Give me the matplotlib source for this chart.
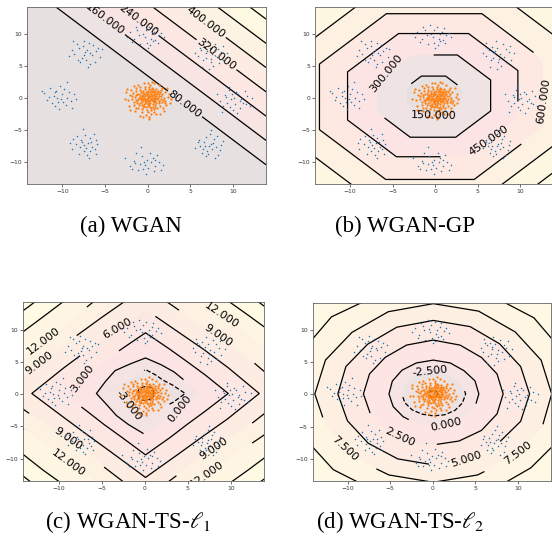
import numpy as np
import matplotlib
matplotlib.use('Agg')
import matplotlib.pyplot as plt
from matplotlib.colors import LinearSegmentedColormap

plt.rcParams['mathtext.fontset'] = 'stix'

# ---------------- data ----------------
x_lim = (-14.1, 13.9)
y_lim = (-13.4, 14.2)

captions = ['(a) WGAN', '(b) WGAN-GP', r'(c) WGAN-TS-$\ell_1$', r'(d) WGAN-TS-$\ell_2$']

# real samples: 8 gaussians on a ring (blue)
real_pts = [
    # right
    (10.1, 0.0), (9.2, 0.2), (11.2, -0.7), (9.7, -1.4), (10.6, 0.6), (8.5, -0.5), (10.9, -1.6), (9.5, 1.3),
    (11.7, 0.3), (10.2, -0.9), (8.9, -1.2), (10.4, 0.9), (9.8, -0.2), (11.0, -0.1), (9.3, -0.7), (12.0, -1.2),
    (8.2, 0.7), (10.5, -2.3), (9.6, 1.8), (11.4, 1.2), (8.7, -2.1), (10.8, -0.4), (9.1, 0.5), (10.0, -1.8),
    (12.3, 0.1), (11.5, -0.9), (9.9, 0.6),
    # upper right
    (7.0, 7.3), (6.3, 7.6), (8.1, 6.5), (7.4, 5.6), (6.7, 8.0), (8.6, 7.2), (5.9, 6.6), (7.9, 8.4),
    (6.5, 5.9), (7.6, 6.9), (8.9, 6.0), (6.1, 7.9), (7.3, 7.8), (8.3, 7.7), (6.8, 6.3), (7.7, 5.1),
    (5.6, 7.1), (9.3, 7.0), (7.1, 8.9), (8.4, 5.5), (6.4, 4.9), (7.5, 6.2), (6.0, 8.6), (8.8, 8.2),
    (7.2, 4.6), (6.9, 7.0),
    # top
    (-0.5, 10.1), (0.4, 9.3), (-1.2, 10.6), (0.8, 10.4), (-0.1, 8.7), (-1.6, 9.2), (1.3, 9.8), (0.2, 11.2),
    (-0.9, 8.4), (0.6, 8.9), (-2.1, 10.3), (1.0, 11.0), (-0.3, 9.6), (-1.0, 9.9), (1.6, 10.2), (-0.6, 11.5),
    (0.0, 7.9), (-1.8, 8.8), (0.9, 9.1), (-0.2, 10.7), (1.9, 9.5), (-2.4, 9.6), (0.3, 8.3), (-1.4, 11.1),
    (1.2, 8.6), (0.5, 10.0),
    # upper left
    (-7.1, 7.5), (-8.0, 7.9), (-6.5, 6.8), (-7.7, 6.3), (-6.9, 8.6), (-8.6, 6.9), (-6.1, 7.4), (-7.5, 9.0),
    (-8.3, 8.5), (-7.2, 6.0), (-5.8, 7.9), (-8.9, 7.5), (-6.7, 7.1), (-7.9, 5.6), (-6.4, 8.3), (-7.3, 7.2),
    (-9.2, 6.6), (-5.6, 6.5), (-7.0, 4.8), (-8.2, 6.0), (-6.2, 5.7), (-7.6, 8.2), (-8.7, 8.9), (-6.8, 5.3),
    (-5.4, 7.7), (-7.4, 6.7),
    # left
    (-10.0, 0.6), (-10.9, 0.9), (-9.4, 0.1), (-10.5, -0.6), (-9.8, 1.5), (-11.6, 0.2), (-9.0, -0.4), (-10.3, 1.9),
    (-11.2, -0.8), (-9.6, -1.1), (-12.1, 0.8), (-10.7, 1.2), (-10.1, -0.1), (-9.2, 0.9), (-11.0, 0.4), (-8.6, 0.6),
    (-11.8, -0.3), (-10.4, -1.7), (-9.5, 2.5), (-12.4, 1.1), (-8.9, -1.6), (-10.6, 0.0), (-11.4, 1.6), (-9.9, -0.6),
    (-8.4, -0.2), (-10.8, -1.2),
    # lower left
    (-7.0, -7.0), (-7.8, -6.6), (-6.5, -7.6), (-7.5, -8.3), (-6.8, -6.2), (-8.4, -7.2), (-6.2, -8.0), (-7.3, -5.7),
    (-8.0, -8.7), (-6.6, -6.9), (-8.8, -6.4), (-7.1, -8.9), (-7.4, -7.3), (-6.1, -6.6), (-7.9, -7.7), (-5.9, -7.2),
    (-8.9, -7.9), (-6.9, -9.3), (-7.6, -4.8), (-6.3, -5.6), (-8.3, -5.9), (-7.2, -7.8), (-9.1, -7.0), (-6.0, -8.7),
    (-7.7, -6.9), (-6.7, -8.3),
    # bottom
    (-0.1, -9.6), (-0.9, -10.3), (0.6, -9.4), (-0.5, -11.0), (0.9, -10.6), (-1.6, -9.8), (0.3, -8.5), (-1.1, -11.2),
    (1.4, -9.9), (-0.4, -10.0), (-2.0, -10.6), (0.7, -11.4), (-0.7, -9.1), (1.1, -8.9), (-1.3, -8.6), (0.1, -10.9),
    (1.8, -10.4), (-2.6, -9.4), (-0.2, -11.8), (1.6, -11.2), (-1.8, -11.1), (0.4, -9.9), (-0.8, -7.6), (-1.5, -10.1),
    (0.9, -9.6), (-0.3, -10.5),
    # lower right
    (7.4, -7.1), (6.6, -6.8), (8.0, -7.6), (7.0, -8.3), (7.8, -6.3), (6.2, -7.4), (8.5, -8.1), (7.3, -5.6),
    (6.4, -8.6), (7.7, -7.0), (8.8, -6.7), (6.8, -9.1), (7.2, -7.5), (8.3, -8.9), (6.0, -6.5), (7.5, -4.9),
    (5.6, -7.8), (8.1, -5.9), (6.9, -6.1), (7.9, -9.4), (6.5, -7.9), (8.6, -7.3), (7.1, -8.7), (5.9, -6.9),
    (7.6, -8.0), (6.7, -7.4),
]

# generated samples (orange)
fake_pts = [
    (0.1, 0.2), (0.5, -0.3), (-0.4, 0.1), (0.8, 0.5), (-0.2, -0.6), (1.1, -0.1), (-0.9, 0.4), (0.3, 0.9), (0.6, -0.9), (-0.6, -0.2),
    (1.4, 0.3), (-1.2, -0.5), (0.0, -1.2), (0.9, 1.1), (-0.5, 0.8), (1.7, -0.6), (-1.5, 0.2), (0.4, -1.6), (-0.3, 1.4), (1.2, 0.9),
    (-1.0, -1.1), (0.7, 0.0), (-0.8, 0.9), (0.2, -0.5), (1.9, 0.1), (-1.8, -0.2), (0.5, 1.6), (-0.1, -1.9), (1.5, -1.2), (-1.3, 1.2),
    (0.2, 0.4), (0.9, -0.5), (-0.4, -0.9), (1.3, 0.6), (-0.7, 0.2), (0.0, 0.7), (0.6, -1.3), (-1.1, -0.1), (1.0, 1.5), (-0.2, -0.3),
    (2.1, -0.4), (-2.0, 0.5), (0.3, 2.0), (0.8, -2.1), (-1.6, -1.0), (1.6, 1.3), (-0.9, 1.7), (1.8, -1.5), (-1.4, -1.6), (0.1, 1.1),
    (0.4, 0.1), (-0.1, 0.5), (0.7, 0.7), (0.3, -0.8), (-0.6, -0.6), (1.0, -0.8), (-0.3, -0.1), (0.5, 0.3), (-0.8, -0.3), (1.2, 0.1),
    (0.0, -0.4), (0.6, 1.2), (-0.5, 1.1), (1.4, -0.4), (-1.2, 0.7), (0.9, 0.3), (-0.2, -1.4), (0.2, 1.5), (1.1, -1.6), (-1.0, 0.1),
    (2.4, 0.2), (-2.3, -0.3), (0.0, 2.4), (0.4, -2.5), (-1.9, 1.3), (2.2, -1.1), (-0.7, -2.2), (1.3, 2.0), (-1.5, -2.0), (2.0, 1.0),
    (0.35, -0.1), (-0.25, 0.3), (0.75, -0.2), (0.15, -1.0), (-0.45, 0.6), (1.05, 0.4), (0.55, 0.55), (-0.65, -1.0), (0.85, -1.0), (-0.1, 0.9),
    (1.55, -0.1), (-1.35, -0.3), (0.25, -1.4), (0.65, 1.4), (-0.85, 1.3), (1.75, 0.7), (-1.7, 0.8), (0.45, -1.8), (-0.35, 1.8), (1.35, -0.8),
    (-1.1, -1.5), (0.95, 0.8), (-0.55, -1.4), (1.25, 1.2), (-0.15, -0.8), (0.05, 0.0), (0.7, -0.6), (-0.9, -0.7), (1.6, 0.4), (-1.4, 0.5),
    (2.6, -0.7), (-2.5, 0.9), (-0.4, 2.3), (1.0, -2.4), (0.2, -2.9), (-2.2, -1.2), (2.3, 1.6), (-1.1, 2.1), (1.9, -2.0), (-2.7, -0.2),
    (0.5, 0.9), (-0.3, -0.5), (0.9, -0.2), (0.1, 0.6), (-0.7, 0.5), (1.1, 0.7), (0.3, -0.3), (-0.5, -0.3), (0.8, 1.0), (-0.2, 1.0),
    (1.3, -0.5), (-1.0, 0.6), (0.6, -0.5), (0.0, -0.9), (-0.4, -1.2), (1.5, 0.9), (-1.2, -0.8), (0.4, 1.3), (0.9, -1.4), (-0.8, 0.0),
    (1.8, -0.3), (-1.6, -0.6), (0.2, 1.8), (0.7, -1.7), (-1.3, 1.6), (1.7, 1.6), (-0.6, -1.7), (2.0, -0.8), (-1.8, 0.4), (0.1, -2.2),
    (0.3, 0.3), (0.6, 0.1), (-0.1, -0.2), (0.2, -0.7), (-0.3, 0.7), (0.8, -0.4), (0.4, 0.6), (-0.5, 0.3), (1.0, 0.0), (0.1, -0.3),
    (-2.1, -1.8), (2.5, 0.6), (-0.2, -2.6), (0.8, 2.3), (-1.6, 1.9), (1.5, -2.4), (-2.4, 1.5), (2.7, -0.2), (-0.9, -2.8), (0.5, 2.6),
    (0.2, -3.3), (-0.5, -3.0),
]

# (a) WGAN: critic values on a coarse grid (plane)
wgan_x = [-14.1, 0.0, 13.9]
wgan_y = [-13.4, 0.0, 14.2]
wgan_z = [[-574, -277, 17],
          [-292, 6, 299],
          [8, 306, 599]]
wgan_levels = [80, 160, 240, 320, 400, 480, 560]
wgan_bounds = [-600, 80, 160, 240, 320, 400, 480, 560, 620]
wgan_labels = [(4.45, -0.78), (-4.9, 12.4), (-1.0, 12.2), (8.2, 7.0), (7.0, 12.1)]

# (b) WGAN-GP: octagons, apothem in directions E, NE, N, NW, W, SW, S, SE
gp_center = (-0.2, 0.35)
gp_levels = [150, 300, 450, 600, 750, 900]
gp_apothem = [
    [3.4, 3.2, 3.1, 3.2, 3.2, 3.1, 3.0, 3.2],
    [6.7, 6.5, 6.4, 6.45, 6.7, 6.5, 6.45, 6.4],
    [9.9, 9.8, 9.75, 9.8, 10.1, 9.8, 9.5, 9.5],
    [12.9, 13.1, 12.85, 13.0, 13.4, 13.2, 13.05, 12.6],
    [16.4, 16.7, 16.2, 16.3, 16.6, 16.6, 16.3, 15.45],
    [19.8, 20.2, 19.6, 19.7, 20.0, 20.0, 19.6, 18.4],
]
gp_min, gp_max = 0, 1400
gp_labels = [(-0.18, -2.75), (-5.66, 3.78), (6.17, -6.48), (12.8, -0.5)]

# contour radii at 16 directions (0, 22.5, ... 337.5 degrees)
angles = np.arange(16) * 22.5

# (c) WGAN-TS-l1
l1_center = (0.1, 0.1)
l1_levels = [-6, -3, 0, 3, 6, 9, 12, 15, 18]
l1_radii = [
    [0.9, 1.0, 1.2, 1.1, 1.1, 1.0, 1.1, 0.9, 0.8, 0.9, 1.1, 1.1, 1.1, 1.0, 1.1, 1.0],
    [4.6, 3.4, 2.9, 3.1, 3.7, 3.0, 2.8, 2.9, 3.2, 2.8, 2.6, 3.0, 4.1, 3.2, 3.0, 3.5],
    [6.3, 5.0, 4.7, 4.8, 5.5, 4.9, 5.0, 5.0, 5.7, 4.8, 4.8, 5.2, 6.4, 5.1, 4.6, 4.8],
    [9.6, 7.5, 6.9, 7.4, 9.4, 7.4, 6.9, 7.4, 9.5, 7.3, 6.8, 7.3, 9.5, 7.4, 6.8, 7.4],
    [13.2, 10.4, 9.6, 10.2, 13.0, 10.2, 9.5, 10.3, 13.2, 10.1, 9.3, 10.0, 13.0, 10.1, 9.4, 10.3],
    [16.8, 13.3, 12.3, 12.9, 16.5, 12.9, 12.0, 13.1, 16.8, 12.6, 11.2, 12.4, 16.3, 12.5, 11.6, 13.0],
    [20.0, 16.1, 15.0, 15.6, 19.8, 15.5, 14.1, 15.3, 20.0, 15.1, 13.9, 15.0, 19.6, 15.0, 14.0, 15.5],
    [23.6, 18.5, 17.0, 18.2, 23.4, 18.2, 16.8, 18.2, 23.6, 18.0, 16.8, 18.0, 23.4, 18.0, 16.8, 18.2],
    [27.0, 20.9, 19.3, 20.8, 26.8, 20.8, 19.1, 20.8, 27.0, 20.6, 19.1, 20.6, 26.8, 20.6, 19.1, 20.8],
]
l1_min, l1_max = -7.5, 26
l1_labels = [(-11.75, 8.2), (-12.25, 4.9), (-3.2, 10.2), (-7.27, 2.45), (-1.84, -1.69), (4.18, -2.3),
             (-8.9, -6.85), (-8.9, -10.7), (8.93, 12.26), (8.46, 9.07), (8.0, -8.4), (7.3, -12.6)]

# (d) WGAN-TS-l2
l2_center = (0.05, 0.05)
l2_levels = [-5, -2.5, 0, 2.5, 5, 7.5, 10, 12.5]
l2_radii = [
    [0.55, 0.5, 0.5, 0.5, 0.5, 0.5, 0.55, 0.55, 0.55, 0.5, 0.5, 0.5, 0.5, 0.5, 0.55, 0.55],
    [3.8, 3.7, 3.5, 3.5, 3.6, 3.6, 3.6, 3.7, 3.7, 3.6, 3.5, 3.4, 3.4, 3.5, 3.6, 3.7],
    [5.35, 5.3, 5.1, 5.2, 5.25, 5.2, 5.2, 5.2, 5.2, 5.1, 5.0, 5.0, 5.0, 5.05, 5.1, 5.3],
    [8.2, 8.1, 8.0, 8.2, 8.35, 8.2, 8.0, 8.1, 8.2, 8.0, 7.8, 7.9, 7.9, 7.9, 8.0, 8.1],
    [11.3, 11.1, 11.0, 11.3, 11.4, 11.2, 10.9, 11.1, 11.2, 10.9, 10.8, 10.9, 11.0, 10.9, 10.8, 11.1],
    [13.9, 13.7, 13.6, 13.9, 14.0, 13.8, 13.5, 13.7, 13.9, 13.6, 13.7, 13.6, 13.7, 13.6, 13.6, 13.8],
    [16.8, 16.6, 16.7, 16.8, 16.9, 16.7, 16.9, 16.8, 16.9, 16.7, 16.6, 16.6, 16.7, 16.6, 16.2, 16.6],
    [19.8, 19.7, 19.9, 19.8, 19.9, 19.8, 19.9, 19.8, 19.9, 19.8, 19.8, 19.8, 19.9, 19.8, 19.5, 19.8],
]
l2_min, l2_max = -5.6, 21
l2_labels = [(-0.35, 3.7), (1.52, -4.83), (-3.95, -6.8), (3.95, -10.0), (-10.6, -8.7), (10.04, -9.2)]

# ---------------- helpers ----------------
cmap = LinearSegmentedColormap.from_list(
    'critic', ['#e6e0e0', '#efe3e3', '#fbe4e3', '#fde9e2', '#fdf1e2', '#fef8e3', '#fffde6'])


def close_ring(a):
    a = np.asarray(a, float)
    return np.hstack([a, a[:, :1]])


def ring_field(cx, cy, rx, ry, levels, zc, ox, oy, zo):
    k = rx.shape[1]
    X = np.vstack([np.full(k, cx), rx, ox])
    Y = np.vstack([np.full(k, cy), ry, oy])
    Z = np.concatenate([[zc], levels, [zo]])[:, None] * np.ones((1, k))
    return close_ring(X), close_ring(Y), close_ring(Z)


def polar_field(center, radii, levels, zc, zo, r_out=36.0):
    cx, cy = center
    t = np.deg2rad(angles)
    r = np.asarray(radii, float)
    rx, ry = cx + r * np.cos(t), cy + r * np.sin(t)
    ox, oy = cx + r_out * np.cos(t), cy + r_out * np.sin(t)
    return ring_field(cx, cy, rx, ry, levels, zc, ox, oy, zo)


def octagon_field(center, apothem, levels, zc, zo, a_out=30.0):
    cx, cy = center
    phi = np.deg2rad(np.arange(8) * 45)
    nrm = np.stack([np.cos(phi), np.sin(phi)], axis=1)
    rows = np.vstack([np.asarray(apothem, float), np.full(8, a_out)])
    xs, ys = [], []
    for row in rows:
        vx, vy = [], []
        for k in range(8):
            k2 = (k + 1) % 8
            v = np.linalg.solve(np.array([nrm[k], nrm[k2]]), [row[k], row[k2]])
            vx.append(cx + v[0])
            vy.append(cy + v[1])
        xs.append(vx)
        ys.append(vy)
    xs, ys = np.array(xs), np.array(ys)
    return ring_field(cx, cy, xs[:-1], ys[:-1], levels, zc, xs[-1:], ys[-1:], zo)


def draw(ax, X, Y, Z, levels, bounds, labels):
    nb = len(bounds) - 1
    ax.contourf(X, Y, Z, levels=bounds, colors=[cmap(v) for v in np.linspace(0, 1, nb)])
    cs = ax.contour(X, Y, Z, levels=levels, colors='k', linewidths=0.9)
    ax.clabel(cs, fmt='%.3f', fontsize=8, manual=labels, inline_spacing=2)
    rx, ry = np.array(real_pts).T
    fx, fy = np.array(fake_pts).T
    ax.scatter(rx, ry, s=1.2, c='#1f77b4', linewidths=0, zorder=3)
    ax.scatter(fx, fy, s=2.6, c='#ff7f0e', linewidths=0, zorder=3)
    ax.set_xlim(*x_lim)
    ax.set_ylim(*y_lim)
    ax.set_xticks([-10, -5, 0, 5, 10])
    ax.set_yticks([-10, -5, 0, 5, 10])
    ax.tick_params(labelsize=4.3, length=2.2, width=0.5, pad=1.5, colors='#333333')
    for sp in ax.spines.values():
        sp.set_linewidth(0.6)
        sp.set_color('#666666')


# ---------------- figure ----------------
fig = plt.figure(figsize=(5.52, 5.41), dpi=100)
ax_a = fig.add_axes([0.0495, 0.660, 0.4325, 0.3265])
ax_b = fig.add_axes([0.571, 0.660, 0.432, 0.3265])
ax_c = fig.add_axes([0.042, 0.1115, 0.437, 0.3295])
ax_d = fig.add_axes([0.5665, 0.1115, 0.4322, 0.329])

Xa, Ya = np.meshgrid(wgan_x, wgan_y)
draw(ax_a, Xa, Ya, np.array(wgan_z, float), wgan_levels, wgan_bounds, wgan_labels)

Xb, Yb, Zb = octagon_field(gp_center, gp_apothem, gp_levels, gp_min, gp_max)
draw(ax_b, Xb, Yb, Zb, gp_levels, [gp_min] + gp_levels + [gp_max], gp_labels)

Xc, Yc, Zc = polar_field(l1_center, l1_radii, l1_levels, l1_min, l1_max)
draw(ax_c, Xc, Yc, Zc, l1_levels, [l1_min] + l1_levels + [l1_max], l1_labels)

Xd, Yd, Zd = polar_field(l2_center, l2_radii, l2_levels, l2_min, l2_max, r_out=30.0)
draw(ax_d, Xd, Yd, Zd, l2_levels, [l2_min] + l2_levels + [l2_max], l2_labels)

cap_pos = [(0.238, 0.582), (0.733, 0.582), (0.231, 0.035), (0.725, 0.035)]
for (cx, cy), txt in zip(cap_pos, captions):
    fig.text(cx, cy, txt, ha='center', va='center', fontsize=16.5, family='Liberation Serif')

fig.savefig('out.png', dpi=100)
